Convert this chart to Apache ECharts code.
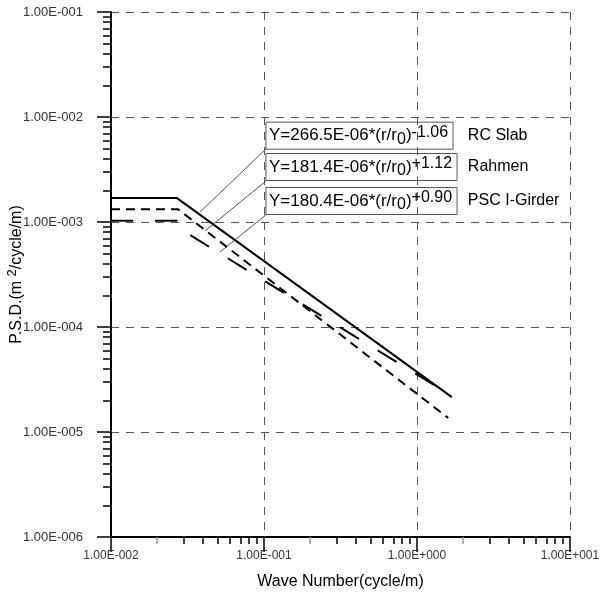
<!DOCTYPE html>
<html>
<head>
<meta charset="utf-8">
<script src="https://cdn.jsdelivr.net/npm/echarts@6/dist/echarts.min.js"></script>
<style>html,body{margin:0;padding:0;background:#fff}#c{width:600px;height:602px}</style>
</head>
<body>
<div id="c"></div>
<script>
// ---- data ----
const xTickLabels = ['1.00E-002', '1.00E-001', '1.00E+000', '1.00E+001'];
const yTickLabels = ['1.00E-006', '1.00E-005', '1.00E-004', '1.00E-003', '1.00E-002', '1.00E-001'];

const rcSlabX = [0.01, 0.027, 0.027, 1.69];
const rcSlabY = [1.69e-3, 1.69e-3, 1.75e-3, 2.15e-5];

const rahmenX = [0.01, 0.0275, 1.6];
const rahmenY = [1.32e-3, 1.32e-3, 1.36e-5];

const pscX = [0.01, 0.027, 0.027, 1.37];
const pscY = [1.03e-3, 1.03e-3, 8.95e-4, 2.66e-5];

const seriesNames = ['RC Slab', 'Rahmen', 'PSC I-Girder'];
const formulaCoef = ['266.5E-06', '181.4E-06', '180.4E-06'];
const formulaExp = ['-1.06', '+1.12', '+0.90'];

// annotation anchors (data coords): box left-middle, box bottom-left, leader end
const boxX = 0.103;
const nameX = 2.15;
const boxMidY = [6.64e-3, 3.34e-3, 1.585e-3];
const boxBottomY = [4.96e-3, 2.455e-3, 1.167e-3];
const leaderEndX = [0.0382, 0.0411, 0.0515];
const leaderEndY = [1.245e-3, 8.2e-4, 5.18e-4];

const xDecades = [0.01, 0.1, 1];
const yDecades = [1e-6, 1e-5, 1e-4, 1e-3, 1e-2];
const xMinorMult = [3, 4, 5, 6, 7, 8, 9];
const yMinorMult = [2, 3, 4, 5, 6, 7, 8, 9];

// ---- build ----
const zip = (xs, ys) => xs.map((x, i) => [x, ys[i]]);
const xMinor = [], xMinorGray = [], yMinor = [];
xDecades.forEach(d => { xMinorGray.push(+(2 * d).toPrecision(6)); xMinorMult.forEach(m => xMinor.push(+(m * d).toPrecision(6))); });
yDecades.forEach(d => { yMinorMult.forEach(m => yMinor.push(+(m * d).toPrecision(6))); });

const FONT = '"Liberation Sans", Arial, sans-serif';
const xFmt = v => xTickLabels[Math.round(Math.log10(v)) + 2] || '';
const yFmt = v => yTickLabels[Math.round(Math.log10(v)) + 6] || '';

const baseX = { type: 'log', logBase: 10, min: 0.01, max: 10, position: 'bottom', gridIndex: 0, offset: 0 };
const baseY = { type: 'log', logBase: 10, min: 1e-6, max: 1e-1, position: 'left', gridIndex: 0, offset: 0 };
const hidden = { axisLine: { show: false }, axisLabel: { show: false }, splitLine: { show: false }, minorTick: { show: false } };

const dashes = ['solid', [9, 6], [22, 22]];
const xsArr = [rcSlabX, rahmenX, pscX];
const ysArr = [rcSlabY, rahmenY, pscY];

const series = seriesNames.map((name, i) => ({
  name, type: 'line', xAxisIndex: 0, yAxisIndex: 0,
  data: zip(xsArr[i], ysArr[i]), showSymbol: false, silent: true,
  lineStyle: { color: '#000', width: 2, type: dashes[i], join: 'round' },
  z: 5 - i,
  markLine: {
    silent: true, symbol: ['none', 'none'],
    lineStyle: { color: '#555', width: 1, type: 'solid' }, label: { show: false },
    data: [[{ coord: [boxX, boxBottomY[i]] }, { coord: [leaderEndX[i], leaderEndY[i]] }]]
  },
  markPoint: {
    silent: true, symbol: 'circle', symbolSize: 0,
    data: [
      {
        coord: [boxX, boxMidY[i]],
        label: {
          show: true, position: 'right', distance: 0,
          formatter: '{t|Y=' + formulaCoef[i] + '*(r/r}{sub|0}{t|)}{sup|' + formulaExp[i] + '}',
          borderColor: '#555', borderWidth: 1, padding: [2, 5, 2, 3],
          rich: {
            t: { fontFamily: FONT, fontSize: 17, color: '#000', lineHeight: 23, verticalAlign: 'middle' },
            sub: { fontFamily: FONT, fontSize: 16, color: '#000', lineHeight: 23, verticalAlign: 'bottom' },
            sup: { fontFamily: FONT, fontSize: 16, color: '#000', lineHeight: 23, verticalAlign: 'top' }
          }
        }
      },
      {
        coord: [nameX, boxMidY[i]],
        label: { show: true, position: 'right', distance: 0, formatter: name,
          fontFamily: FONT, fontSize: 16, color: '#000' }
      }
    ]
  }
}));

const option = {
  animation: false,
  backgroundColor: '#fff',
  grid: { left: 111, top: 12, right: 30, bottom: 65, containLabel: false, outerBoundsMode: 'none' },
  xAxis: [
    Object.assign({}, baseX, {
      name: 'Wave Number(cycle/m)', nameLocation: 'middle', nameGap: 37, nameMoveOverlap: false,
      nameTextStyle: { fontFamily: FONT, fontSize: 16, color: '#000' },
      axisLine: { show: true, lineStyle: { color: '#000', width: 2 } },
      axisTick: { show: true, inside: false, length: 15, lineStyle: { color: '#000', width: 1.5 } },
      axisLabel: { show: true, formatter: xFmt, margin: 13, fontFamily: FONT, fontSize: 12, color: '#333', showMinLabel: true, showMaxLabel: true },
      splitLine: { show: true, lineStyle: { color: '#555', width: 1, type: [8, 7] } },
      minorTick: { show: false }, minorSplitLine: { show: false }
    }),
    Object.assign({}, baseX, hidden, {
      axisTick: { show: true, inside: false, length: 7, customValues: xMinor, lineStyle: { color: '#000', width: 1.5 } }
    }),
    Object.assign({}, baseX, hidden, {
      axisTick: { show: true, inside: false, length: 7, customValues: xMinor, lineStyle: { color: '#000', width: 1.5 } }
    }),
    Object.assign({}, baseX, hidden, {
      axisTick: { show: true, inside: false, length: 7, customValues: xMinorGray, lineStyle: { color: '#999', width: 1.5 } }
    })
  ],
  yAxis: [
    Object.assign({}, baseY, {
      name: 'P.S.D.(m {sp|2}/cycle/m)', nameLocation: 'middle', nameGap: 83, nameRotate: 90, nameMoveOverlap: false,
      nameTextStyle: { fontFamily: FONT, fontSize: 16, color: '#000',
        rich: { sp: { fontFamily: FONT, fontSize: 13, color: '#000', verticalAlign: 'top', lineHeight: 22 } } },
      axisLine: { show: true, lineStyle: { color: '#000', width: 2 } },
      axisTick: { show: true, inside: false, length: 14, lineStyle: { color: '#000', width: 1.5 } },
      axisLabel: { show: true, formatter: yFmt, margin: 28, fontFamily: FONT, fontSize: 13, color: '#333', showMinLabel: true, showMaxLabel: true },
      splitLine: { show: true, lineStyle: { color: '#555', width: 1, type: [8, 7] } },
      minorTick: { show: false }, minorSplitLine: { show: false }
    }),
    Object.assign({}, baseY, hidden, {
      axisTick: { show: true, inside: false, length: 8, customValues: yMinor, lineStyle: { color: '#000', width: 1.5 } }
    })
  ],
  series
};

const chart = echarts.init(document.getElementById('c'), null, { renderer: 'canvas' });
chart.setOption(option);
</script>
</body>
</html>
